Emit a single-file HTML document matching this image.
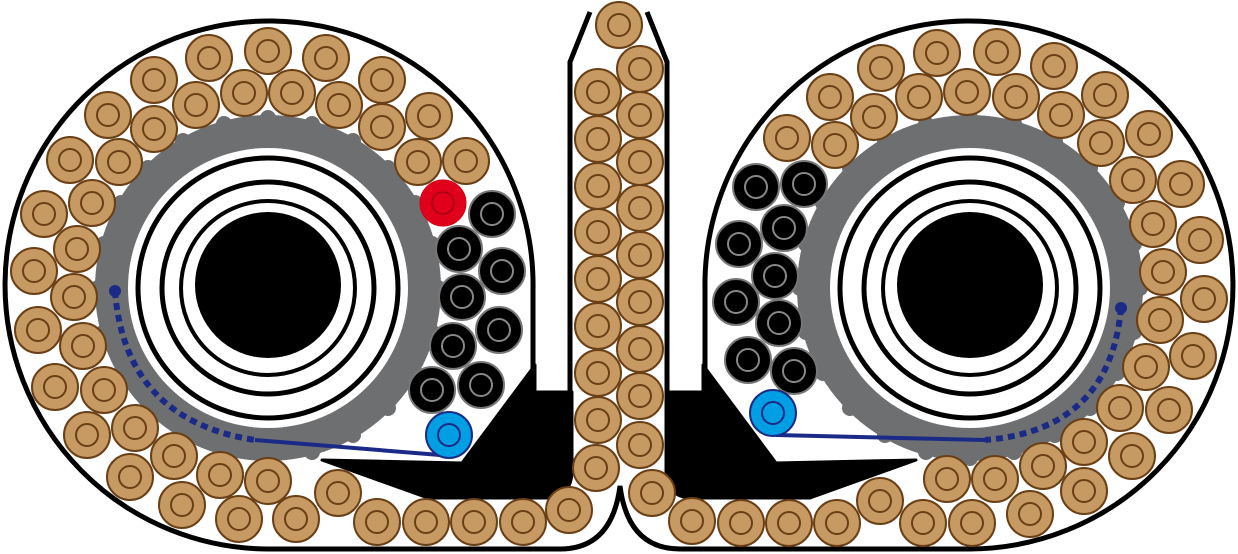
<!DOCTYPE html>
<html><head><meta charset="utf-8"><style>html,body{margin:0;padding:0;background:#fff}svg{display:block}</style></head>
<body>
<svg width="1238" height="554" viewBox="0 0 1238 554" xmlns="http://www.w3.org/2000/svg">
<defs>
<g id="b"><circle r="23" fill="#c69a62" stroke="#6a3f16" stroke-width="2"/><circle r="11" fill="none" stroke="#6a3f16" stroke-width="2"/></g>
<g id="k"><circle r="23" fill="#000" stroke="#777" stroke-width="2"/><circle r="11" fill="none" stroke="#888" stroke-width="2"/></g>
<g id="gear">
<circle r="173" fill="#6e6f71"/>
<g fill="#6e6f71">
<circle cx="0" cy="-170" r="8"/><circle cx="44" cy="-164" r="8"/><circle cx="85" cy="-147" r="8"/><circle cx="120" cy="-120" r="8"/><circle cx="147" cy="-85" r="8"/><circle cx="164" cy="-44" r="8"/><circle cx="170" cy="0" r="8"/><circle cx="164" cy="44" r="8"/><circle cx="147" cy="85" r="8"/><circle cx="120" cy="120" r="8"/><circle cx="85" cy="147" r="8"/><circle cx="44" cy="164" r="8"/><circle cx="0" cy="170" r="8"/><circle cx="-44" cy="164" r="8"/><circle cx="-85" cy="147" r="8"/><circle cx="-120" cy="120" r="8"/><circle cx="-147" cy="85" r="8"/><circle cx="-164" cy="44" r="8"/><circle cx="-170" cy="0" r="8"/><circle cx="-164" cy="-44" r="8"/><circle cx="-147" cy="-85" r="8"/><circle cx="-120" cy="-120" r="8"/><circle cx="-85" cy="-147" r="8"/><circle cx="-44" cy="-164" r="8"/>
</g>
<circle r="140" fill="#fff"/>
<circle r="130" fill="none" stroke="#000" stroke-width="5"/>
<circle r="106" fill="none" stroke="#000" stroke-width="5"/>
<circle r="87" fill="none" stroke="#000" stroke-width="4"/>
<circle cx="0" cy="-3" r="73" fill="#000"/>
</g>
</defs>

<path d="M533 290 A264 264 0 1 0 268 549 L560 549 Q612 549 620 486 Q628 549 680 549 L970 549 A264 264 0 1 0 705 290" fill="none" stroke="#000" stroke-width="5"/>
<path d="M533 285 L533 392 M705 285 L705 392" stroke="#000" stroke-width="5"/>
<path d="M570 392 L570 62 L590 12 M667 392 L667 62 L647 12" fill="none" stroke="#000" stroke-width="5"/>

<use href="#gear" x="268" y="288"/>
<use href="#gear" x="970" y="288"/>

<path d="M322 460 L462 463 L535 365 L535 392 L572 392 L572 470 Q572 498 545 498 L428 498 Z" fill="#000" stroke="#000" stroke-width="3" stroke-linejoin="round"/>
<path d="M916 460 L776 463 L703 365 L703 392 L666 392 L666 470 Q666 498 693 498 L810 498 Z" fill="#000" stroke="#000" stroke-width="3" stroke-linejoin="round"/>

<path d="M115 291 Q125 420 255 440" fill="none" stroke="#1c2a87" stroke-width="6" stroke-dasharray="7 5"/>
<path d="M255 440 L440 455" stroke="#1c2a87" stroke-width="4"/>
<circle cx="115" cy="291" r="6" fill="#1c2a87"/>
<path d="M1121 308 Q1110 430 985 440" fill="none" stroke="#1c2a87" stroke-width="6" stroke-dasharray="7 5"/>
<path d="M985 440 L776 435" stroke="#1c2a87" stroke-width="4"/>
<circle cx="1121" cy="308" r="6" fill="#1c2a87"/>

<g>
<use href="#b" x="209" y="58"/><use href="#b" x="268" y="51"/><use href="#b" x="326" y="58"/><use href="#b" x="382" y="80"/><use href="#b" x="429" y="116"/><use href="#b" x="466" y="161"/><use href="#b" x="154" y="80"/><use href="#b" x="108" y="115"/><use href="#b" x="70" y="160"/><use href="#b" x="44" y="214"/><use href="#b" x="34" y="271"/><use href="#b" x="38" y="330"/><use href="#b" x="55" y="387"/><use href="#b" x="87" y="435"/><use href="#b" x="130" y="477"/><use href="#b" x="182" y="505"/><use href="#b" x="239" y="519"/><use href="#b" x="296" y="519"/><use href="#b" x="338" y="493"/><use href="#b" x="377" y="522"/><use href="#b" x="426" y="522"/><use href="#b" x="474" y="522"/><use href="#b" x="523" y="522"/><use href="#b" x="569" y="510"/>
<use href="#b" x="196" y="105"/><use href="#b" x="244" y="93"/><use href="#b" x="292" y="93"/><use href="#b" x="339" y="105"/><use href="#b" x="382" y="127"/><use href="#b" x="418" y="162"/><use href="#b" x="154" y="129"/><use href="#b" x="119" y="162"/><use href="#b" x="92" y="203"/><use href="#b" x="77" y="249"/><use href="#b" x="74" y="297"/><use href="#b" x="83" y="346"/><use href="#b" x="104" y="390"/><use href="#b" x="135" y="428"/><use href="#b" x="174" y="456"/><use href="#b" x="220" y="475"/><use href="#b" x="268" y="481"/>
</g>
<g>
<use href="#b" x="619" y="25"/>
<use href="#b" x="598" y="92"/><use href="#b" x="598" y="139"/><use href="#b" x="598" y="186"/><use href="#b" x="598" y="232"/><use href="#b" x="598" y="279"/><use href="#b" x="598" y="326"/><use href="#b" x="598" y="373"/><use href="#b" x="598" y="420"/><use href="#b" x="596" y="468"/>
<use href="#b" x="640" y="69"/><use href="#b" x="640" y="115"/><use href="#b" x="640" y="162"/><use href="#b" x="640" y="208"/><use href="#b" x="640" y="255"/><use href="#b" x="640" y="302"/><use href="#b" x="640" y="349"/><use href="#b" x="640" y="396"/><use href="#b" x="640" y="445"/><use href="#b" x="652" y="493"/>
</g>
<g>
<use href="#b" x="881" y="68"/><use href="#b" x="937" y="53"/><use href="#b" x="997" y="52"/><use href="#b" x="1054" y="66"/><use href="#b" x="1105" y="95"/><use href="#b" x="1149" y="134"/><use href="#b" x="1181" y="184"/><use href="#b" x="1200" y="240"/><use href="#b" x="1204" y="299"/><use href="#b" x="1193" y="356"/><use href="#b" x="1169" y="410"/><use href="#b" x="1132" y="456"/><use href="#b" x="1084" y="491"/><use href="#b" x="1030" y="514"/><use href="#b" x="972" y="523"/><use href="#b" x="923" y="523"/><use href="#b" x="880" y="501"/><use href="#b" x="837" y="523"/><use href="#b" x="789" y="523"/><use href="#b" x="741" y="523"/><use href="#b" x="692" y="521"/>
<use href="#b" x="787" y="138"/><use href="#b" x="835" y="145"/><use href="#b" x="830" y="97"/><use href="#b" x="874" y="117"/><use href="#b" x="919" y="97"/><use href="#b" x="967" y="92"/><use href="#b" x="1016" y="97"/><use href="#b" x="1061" y="115"/><use href="#b" x="1101" y="143"/><use href="#b" x="1133" y="180"/><use href="#b" x="1153" y="224"/><use href="#b" x="1163" y="272"/><use href="#b" x="1160" y="320"/><use href="#b" x="1146" y="367"/><use href="#b" x="1120" y="408"/><use href="#b" x="1084" y="442"/><use href="#b" x="1043" y="466"/><use href="#b" x="995" y="479"/><use href="#b" x="947" y="479"/>
</g>
<g>
<use href="#k" x="492" y="214"/><use href="#k" x="459" y="249"/><use href="#k" x="502" y="271"/><use href="#k" x="462" y="297"/><use href="#k" x="499" y="330"/><use href="#k" x="453" y="346"/><use href="#k" x="481" y="385"/><use href="#k" x="432" y="390"/>
<use href="#k" x="756" y="187"/><use href="#k" x="804" y="184"/><use href="#k" x="784" y="228"/><use href="#k" x="739" y="244"/><use href="#k" x="775" y="276"/><use href="#k" x="736" y="302"/><use href="#k" x="779" y="323"/><use href="#k" x="748" y="360"/><use href="#k" x="794" y="371"/>
</g>
<circle cx="443" cy="203" r="23" fill="#e0001b" stroke="#d00018" stroke-width="1"/>
<circle cx="443" cy="203" r="11" fill="none" stroke="#a00012" stroke-width="1.5"/>
<circle cx="449" cy="435" r="23" fill="#009fe3" stroke="#1c2a87" stroke-width="2"/>
<circle cx="449" cy="435" r="11" fill="none" stroke="#1c2a87" stroke-width="2"/>
<circle cx="773" cy="413" r="23" fill="#009fe3" stroke="#1c2a87" stroke-width="2"/>
<circle cx="773" cy="413" r="11" fill="none" stroke="#1c2a87" stroke-width="2"/>
</svg>
</body></html>
